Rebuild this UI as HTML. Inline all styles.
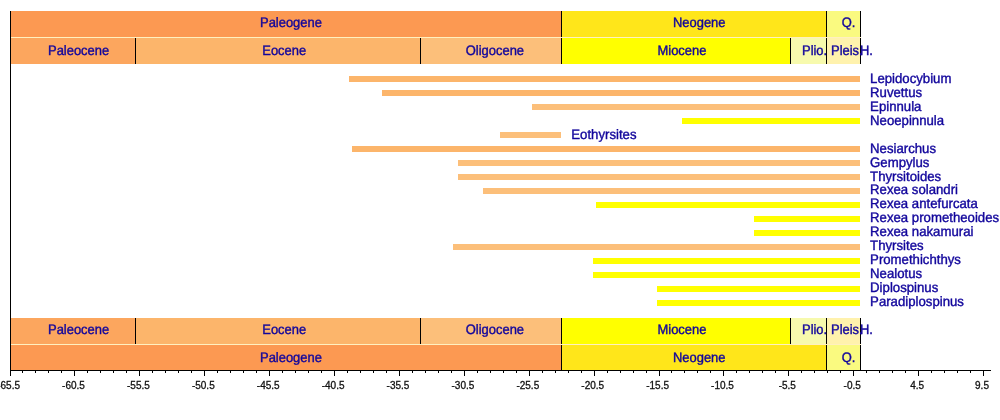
<!DOCTYPE html><html><head><meta charset="utf-8"><title>Gempylidae timeline</title>
<style>html,body{margin:0;padding:0;background:#fff}svg{display:block}text{font-family:"Liberation Sans",Arial,Helvetica,sans-serif}.l,.r{text-rendering:geometricPrecision;font-size:13.7px;fill:#12069c;stroke:#12069c;stroke-width:0.4px;letter-spacing:0px}.a{font-size:10px;fill:#111;stroke:#111;stroke-width:0.3px;text-anchor:middle;letter-spacing:0px}</style></head><body>
<svg width="1000" height="420" viewBox="0 0 1000 420">
<rect x="0" y="0" width="1000" height="420" fill="#fff"/>
<g shape-rendering="crispEdges">
<rect x="10" y="11" width="551" height="26" fill="rgb(252,153,82)"/>
<rect x="561" y="11" width="265" height="26" fill="rgb(255,230,26)"/>
<rect x="826" y="11" width="34" height="26" fill="rgb(250,250,128)"/>
<rect x="561" y="11" width="1" height="26" fill="#000"/>
<rect x="826" y="11" width="1" height="26" fill="#000"/>
<rect x="860" y="11" width="1" height="26" fill="#000"/>
<rect x="11" y="37" width="850" height="1" fill="#fff0c0"/>
<rect x="10" y="38" width="125" height="26" fill="rgb(252,166,94)"/>
<rect x="135" y="38" width="285" height="26" fill="rgb(252,181,107)"/>
<rect x="420" y="38" width="141" height="26" fill="rgb(252,191,122)"/>
<rect x="561" y="38" width="229" height="26" fill="rgb(255,255,0)"/>
<rect x="790" y="38" width="36" height="26" fill="rgb(247,250,173)"/>
<rect x="826" y="38" width="34" height="26" fill="rgb(255,242,173)"/>
<rect x="135" y="38" width="1" height="26" fill="#000"/>
<rect x="420" y="38" width="1" height="26" fill="#000"/>
<rect x="561" y="38" width="1" height="26" fill="#000"/>
<rect x="790" y="38" width="1" height="26" fill="#000"/>
<rect x="826" y="38" width="1" height="26" fill="#000"/>
<rect x="860" y="38" width="1" height="26" fill="#000"/>
<rect x="860" y="38" width="1" height="26" fill="#000"/>
<rect x="10" y="318" width="125" height="26" fill="rgb(252,166,94)"/>
<rect x="135" y="318" width="285" height="26" fill="rgb(252,181,107)"/>
<rect x="420" y="318" width="141" height="26" fill="rgb(252,191,122)"/>
<rect x="561" y="318" width="229" height="26" fill="rgb(255,255,0)"/>
<rect x="790" y="318" width="36" height="26" fill="rgb(247,250,173)"/>
<rect x="826" y="318" width="34" height="26" fill="rgb(255,242,173)"/>
<rect x="135" y="318" width="1" height="26" fill="#000"/>
<rect x="420" y="318" width="1" height="26" fill="#000"/>
<rect x="561" y="318" width="1" height="26" fill="#000"/>
<rect x="790" y="318" width="1" height="26" fill="#000"/>
<rect x="826" y="318" width="1" height="26" fill="#000"/>
<rect x="860" y="318" width="1" height="26" fill="#000"/>
<rect x="860" y="318" width="1" height="26" fill="#000"/>
<rect x="11" y="344" width="850" height="1" fill="#fff0c0"/>
<rect x="10" y="345" width="551" height="25" fill="rgb(252,153,82)"/>
<rect x="561" y="345" width="265" height="25" fill="rgb(255,230,26)"/>
<rect x="826" y="345" width="34" height="25" fill="rgb(250,250,128)"/>
<rect x="561" y="345" width="1" height="25" fill="#000"/>
<rect x="826" y="345" width="1" height="25" fill="#000"/>
<rect x="860" y="345" width="1" height="25" fill="#000"/>
<rect x="349" y="76" width="511" height="6" fill="rgb(252,181,107)"/>
<rect x="382" y="90" width="478" height="6" fill="rgb(252,181,107)"/>
<rect x="532" y="104" width="328" height="6" fill="rgb(252,191,122)"/>
<rect x="682" y="118" width="178" height="6" fill="rgb(255,255,0)"/>
<rect x="500" y="132" width="61" height="6" fill="rgb(252,191,122)"/>
<rect x="352" y="146" width="508" height="6" fill="rgb(252,181,107)"/>
<rect x="458" y="160" width="402" height="6" fill="rgb(252,191,122)"/>
<rect x="458" y="174" width="402" height="6" fill="rgb(252,191,122)"/>
<rect x="483" y="188" width="377" height="6" fill="rgb(252,191,122)"/>
<rect x="596" y="202" width="264" height="6" fill="rgb(255,255,0)"/>
<rect x="754" y="216" width="106" height="6" fill="rgb(255,255,0)"/>
<rect x="754" y="230" width="106" height="6" fill="rgb(255,255,0)"/>
<rect x="453" y="244" width="407" height="6" fill="rgb(252,191,122)"/>
<rect x="593" y="258" width="267" height="6" fill="rgb(255,255,0)"/>
<rect x="593" y="272" width="267" height="6" fill="rgb(255,255,0)"/>
<rect x="657" y="286" width="203" height="6" fill="rgb(255,255,0)"/>
<rect x="657" y="300" width="203" height="6" fill="rgb(255,255,0)"/>
<rect x="10" y="11" width="1" height="365" fill="#000"/>
<rect x="10" y="370" width="981" height="1" fill="#000"/>
<rect x="10" y="370" width="1" height="6" fill="#000"/>
<rect x="22" y="370" width="1" height="3" fill="#000"/>
<rect x="35" y="370" width="1" height="3" fill="#000"/>
<rect x="48" y="370" width="1" height="3" fill="#000"/>
<rect x="61" y="370" width="1" height="3" fill="#000"/>
<rect x="74" y="370" width="1" height="6" fill="#000"/>
<rect x="87" y="370" width="1" height="3" fill="#000"/>
<rect x="100" y="370" width="1" height="3" fill="#000"/>
<rect x="113" y="370" width="1" height="3" fill="#000"/>
<rect x="126" y="370" width="1" height="3" fill="#000"/>
<rect x="139" y="370" width="1" height="6" fill="#000"/>
<rect x="152" y="370" width="1" height="3" fill="#000"/>
<rect x="165" y="370" width="1" height="3" fill="#000"/>
<rect x="178" y="370" width="1" height="3" fill="#000"/>
<rect x="191" y="370" width="1" height="3" fill="#000"/>
<rect x="204" y="370" width="1" height="6" fill="#000"/>
<rect x="217" y="370" width="1" height="3" fill="#000"/>
<rect x="230" y="370" width="1" height="3" fill="#000"/>
<rect x="243" y="370" width="1" height="3" fill="#000"/>
<rect x="256" y="370" width="1" height="3" fill="#000"/>
<rect x="269" y="370" width="1" height="6" fill="#000"/>
<rect x="282" y="370" width="1" height="3" fill="#000"/>
<rect x="295" y="370" width="1" height="3" fill="#000"/>
<rect x="308" y="370" width="1" height="3" fill="#000"/>
<rect x="321" y="370" width="1" height="3" fill="#000"/>
<rect x="334" y="370" width="1" height="6" fill="#000"/>
<rect x="347" y="370" width="1" height="3" fill="#000"/>
<rect x="360" y="370" width="1" height="3" fill="#000"/>
<rect x="373" y="370" width="1" height="3" fill="#000"/>
<rect x="386" y="370" width="1" height="3" fill="#000"/>
<rect x="399" y="370" width="1" height="6" fill="#000"/>
<rect x="412" y="370" width="1" height="3" fill="#000"/>
<rect x="425" y="370" width="1" height="3" fill="#000"/>
<rect x="438" y="370" width="1" height="3" fill="#000"/>
<rect x="451" y="370" width="1" height="3" fill="#000"/>
<rect x="464" y="370" width="1" height="6" fill="#000"/>
<rect x="477" y="370" width="1" height="3" fill="#000"/>
<rect x="490" y="370" width="1" height="3" fill="#000"/>
<rect x="503" y="370" width="1" height="3" fill="#000"/>
<rect x="516" y="370" width="1" height="3" fill="#000"/>
<rect x="529" y="370" width="1" height="6" fill="#000"/>
<rect x="542" y="370" width="1" height="3" fill="#000"/>
<rect x="555" y="370" width="1" height="3" fill="#000"/>
<rect x="568" y="370" width="1" height="3" fill="#000"/>
<rect x="581" y="370" width="1" height="3" fill="#000"/>
<rect x="594" y="370" width="1" height="6" fill="#000"/>
<rect x="607" y="370" width="1" height="3" fill="#000"/>
<rect x="620" y="370" width="1" height="3" fill="#000"/>
<rect x="633" y="370" width="1" height="3" fill="#000"/>
<rect x="646" y="370" width="1" height="3" fill="#000"/>
<rect x="659" y="370" width="1" height="6" fill="#000"/>
<rect x="671" y="370" width="1" height="3" fill="#000"/>
<rect x="684" y="370" width="1" height="3" fill="#000"/>
<rect x="697" y="370" width="1" height="3" fill="#000"/>
<rect x="710" y="370" width="1" height="3" fill="#000"/>
<rect x="723" y="370" width="1" height="6" fill="#000"/>
<rect x="736" y="370" width="1" height="3" fill="#000"/>
<rect x="749" y="370" width="1" height="3" fill="#000"/>
<rect x="762" y="370" width="1" height="3" fill="#000"/>
<rect x="775" y="370" width="1" height="3" fill="#000"/>
<rect x="788" y="370" width="1" height="6" fill="#000"/>
<rect x="801" y="370" width="1" height="3" fill="#000"/>
<rect x="814" y="370" width="1" height="3" fill="#000"/>
<rect x="827" y="370" width="1" height="3" fill="#000"/>
<rect x="840" y="370" width="1" height="3" fill="#000"/>
<rect x="853" y="370" width="1" height="6" fill="#000"/>
<rect x="866" y="370" width="1" height="3" fill="#000"/>
<rect x="879" y="370" width="1" height="3" fill="#000"/>
<rect x="892" y="370" width="1" height="3" fill="#000"/>
<rect x="905" y="370" width="1" height="3" fill="#000"/>
<rect x="918" y="370" width="1" height="6" fill="#000"/>
<rect x="931" y="370" width="1" height="3" fill="#000"/>
<rect x="944" y="370" width="1" height="3" fill="#000"/>
<rect x="957" y="370" width="1" height="3" fill="#000"/>
<rect x="970" y="370" width="1" height="3" fill="#000"/>
<rect x="983" y="370" width="1" height="6" fill="#000"/>
</g>
<text class="l" transform="translate(260.0 27) scale(0.945 1)">Paleogene</text>
<text class="l" transform="translate(260.0 362) scale(0.945 1)">Paleogene</text>
<text class="l" transform="translate(673.0 27) scale(0.945 1)">Neogene</text>
<text class="l" transform="translate(673.0 362) scale(0.945 1)">Neogene</text>
<text class="l" transform="translate(841.8 27) scale(0.945 1)">Q.</text>
<text class="l" transform="translate(841.8 362) scale(0.945 1)">Q.</text>
<text class="l" transform="translate(48.0 55) scale(0.945 1)">Paleocene</text>
<text class="l" transform="translate(48.0 334) scale(0.945 1)">Paleocene</text>
<text class="l" transform="translate(262.3 55) scale(0.945 1)">Eocene</text>
<text class="l" transform="translate(262.3 334) scale(0.945 1)">Eocene</text>
<text class="l" transform="translate(465.8 55) scale(0.945 1)">Oligocene</text>
<text class="l" transform="translate(465.8 334) scale(0.945 1)">Oligocene</text>
<text class="l" transform="translate(657.5 55) scale(0.945 1)">Miocene</text>
<text class="l" transform="translate(657.5 334) scale(0.945 1)">Miocene</text>
<text class="l" transform="translate(802.0 55) scale(0.945 1)">Plio.</text>
<text class="l" transform="translate(802.0 334) scale(0.945 1)">Plio.</text>
<text class="l" transform="translate(831.0 55) scale(0.945 1)">Pleis.</text>
<text class="l" transform="translate(831.0 334) scale(0.945 1)">Pleis.</text>
<text class="l" transform="translate(860.0 55) scale(0.945 1)">H.</text>
<text class="l" transform="translate(860.0 334) scale(0.945 1)">H.</text>
<text class="r" transform="translate(870.1 83) scale(0.963 1)">Lepidocybium</text>
<text class="r" transform="translate(870.1 97) scale(0.963 1)">Ruvettus</text>
<text class="r" transform="translate(870.1 111) scale(0.963 1)">Epinnula</text>
<text class="r" transform="translate(870.1 125) scale(0.963 1)">Neoepinnula</text>
<text class="r" transform="translate(571.3 139) scale(0.963 1)">Eothyrsites</text>
<text class="r" transform="translate(870.1 153) scale(0.963 1)">Nesiarchus</text>
<text class="r" transform="translate(870.1 167) scale(0.963 1)">Gempylus</text>
<text class="r" transform="translate(870.1 181) scale(0.963 1)">Thyrsitoides</text>
<text class="r" transform="translate(870.1 194) scale(0.963 1)">Rexea solandri</text>
<text class="r" transform="translate(870.1 208) scale(0.963 1)">Rexea antefurcata</text>
<text class="r" transform="translate(870.1 222) scale(0.963 1)">Rexea prometheoides</text>
<text class="r" transform="translate(870.1 236) scale(0.963 1)">Rexea nakamurai</text>
<text class="r" transform="translate(870.1 250) scale(0.963 1)">Thyrsites</text>
<text class="r" transform="translate(870.1 264) scale(0.963 1)">Promethichthys</text>
<text class="r" transform="translate(870.1 278) scale(0.963 1)">Nealotus</text>
<text class="r" transform="translate(870.1 292) scale(0.963 1)">Diplospinus</text>
<text class="r" transform="translate(870.1 306) scale(0.963 1)">Paradiplospinus</text>
<text class="a" transform="translate(8.6 389) scale(1 1.0)">-65.5</text>
<text class="a" transform="translate(73.5 389) scale(1 1.0)">-60.5</text>
<text class="a" transform="translate(138.4 389) scale(1 1.0)">-55.5</text>
<text class="a" transform="translate(203.3 389) scale(1 1.0)">-50.5</text>
<text class="a" transform="translate(268.2 389) scale(1 1.0)">-45.5</text>
<text class="a" transform="translate(333.1 389) scale(1 1.0)">-40.5</text>
<text class="a" transform="translate(398.0 389) scale(1 1.0)">-35.5</text>
<text class="a" transform="translate(462.9 389) scale(1 1.0)">-30.5</text>
<text class="a" transform="translate(527.8 389) scale(1 1.0)">-25.5</text>
<text class="a" transform="translate(592.7 389) scale(1 1.0)">-20.5</text>
<text class="a" transform="translate(657.6 389) scale(1 1.0)">-15.5</text>
<text class="a" transform="translate(722.5 389) scale(1 1.0)">-10.5</text>
<text class="a" transform="translate(787.3 389) scale(1 1.0)">-5.5</text>
<text class="a" transform="translate(852.2 389) scale(1 1.0)">-0.5</text>
<text class="a" transform="translate(917.1 389) scale(1 1.0)">4.5</text>
<text class="a" transform="translate(982.0 389) scale(1 1.0)">9.5</text>
</svg></body></html>
